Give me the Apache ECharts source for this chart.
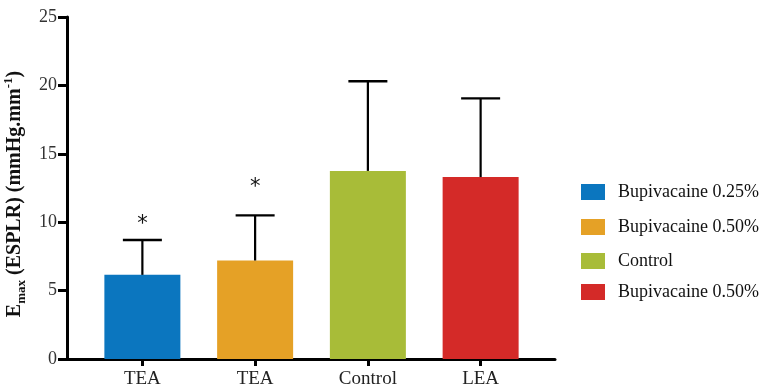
<!DOCTYPE html>
<html>
<head>
<meta charset="utf-8">
<script src="https://cdn.jsdelivr.net/npm/echarts@6/dist/echarts.min.js"></script>
<style>
html,body{margin:0;padding:0;background:#fff;}
#main{width:769px;height:388px;}
</style>
</head>
<body>
<div id="main"></div>
<script>
var categories = ['TEA', 'TEA', 'Control', 'LEA'];
var seriesNames = ['Bupivacaine 0.25%', 'Bupivacaine 0.50%', 'Control', 'Bupivacaine 0.50% '];
var means = [6.15, 7.2, 13.75, 13.3];
var upperErrors = [8.7, 10.5, 20.3, 19.05];
var starValues = [9.85, 12.5, null, null];
var colors = ['#0b76bf', '#e5a126', '#a8bc38', '#d42a28'];
var yTicks = [0, 5, 10, 15, 20, 25];

var FONT = 'Liberation Serif';

var chart = echarts.init(document.getElementById('main'), null, {renderer: 'canvas'});

var barSeries = seriesNames.map(function (name, i) {
  var data = categories.map(function (c, j) { return j === i ? means[j] : '-'; });
  return {
    name: name,
    type: 'bar',
    xAxisIndex: 1,
    yAxisIndex: 1,
    barWidth: 76,
    barGap: '-100%',
    itemStyle: {color: colors[i]},
    data: data,
    z: 2
  };
});

var errData = categories.map(function (c, i) { return [i, means[i], upperErrors[i]]; });
var starData = [];
starValues.forEach(function (v, i) { if (v != null) starData.push([i, v]); });

var legendTops = [183, 218, 252, 283];
var legends = seriesNames.map(function (n, i) {
  return {
    orient: 'vertical',
    left: 581,
    top: legendTops[i],
    padding: 0,
    itemWidth: 24,
    itemHeight: 16,
    icon: 'rect',
    data: [n],
    selectedMode: false,
    formatter: function (s) { return s.trim(); },
    textStyle: {fontFamily: FONT, fontSize: 18, color: '#111', lineHeight: 16, padding: [0, 0, 0, 8]}
  };
});

var option = {
  animation: false,
  backgroundColor: '#fff',
  grid: [
    {left: 67, right: 214, top: 17, bottom: 29, outerBoundsMode: 'none', containLabel: false},
    {left: 86, right: 232, top: 17, bottom: 29, outerBoundsMode: 'none', containLabel: false}
  ],
  legend: legends,
  xAxis: [
    {
      gridIndex: 0, type: 'value', min: 0, max: 1,
      axisLine: {show: true, lineStyle: {color: '#000', width: 3}},
      axisTick: {show: false}, axisLabel: {show: false}, splitLine: {show: false}
    },
    {
      gridIndex: 1, type: 'category', data: categories,
      axisLine: {show: false},
      axisTick: {show: true, alignWithLabel: true, length: 7, lineStyle: {color: '#000', width: 3}},
      axisLabel: {fontFamily: FONT, fontSize: 19, color: '#222', margin: 11},
      splitLine: {show: false}
    }
  ],
  yAxis: [
    {
      gridIndex: 0, type: 'value', min: 0, max: 25, interval: 5,
      axisLine: {show: true, lineStyle: {color: '#000', width: 3}},
      axisTick: {show: true, length: 9, lineStyle: {color: '#000', width: 3}},
      axisLabel: {fontFamily: FONT, fontSize: 18, color: '#333', margin: 10},
      splitLine: {show: false},
      name: '{b|E}{sub|max}{b| (ESPLR) (mmHg.mm}{sup|-1}{b|)}',
      nameLocation: 'middle',
      nameRotate: 90,
      nameGap: 35,
      nameTextStyle: {
        padding: [0, 12, 0, 0],
        rich: {
          b: {fontFamily: FONT, fontSize: 20, fontWeight: 'bold', color: '#111', lineHeight: 26},
          sub: {fontFamily: FONT, fontSize: 13, fontWeight: 'bold', color: '#111', lineHeight: 12, verticalAlign: 'bottom'},
          sup: {fontFamily: FONT, fontSize: 13, fontWeight: 'bold', color: '#111', lineHeight: 12, verticalAlign: 'top'}
        }
      }
    },
    {
      gridIndex: 1, type: 'value', min: 0, max: 25, interval: 5, show: false
    }
  ],
  series: barSeries.concat([
    {
      type: 'custom',
      xAxisIndex: 1, yAxisIndex: 1,
      z: 5,
      silent: true,
      data: errData,
      renderItem: function (params, api) {
        var p0 = api.coord([api.value(0), api.value(1)]);
        var p1 = api.coord([api.value(0), api.value(2)]);
        var half = 19.5;
        return {
          type: 'group',
          children: [
            {type: 'line', shape: {x1: p0[0], y1: p0[1], x2: p1[0], y2: p1[1]}, style: {stroke: '#000', lineWidth: 2.2}},
            {type: 'line', shape: {x1: p1[0] - half, y1: p1[1], x2: p1[0] + half, y2: p1[1]}, style: {stroke: '#000', lineWidth: 2.4}}
          ]
        };
      }
    },
    {
      type: 'custom',
      xAxisIndex: 1, yAxisIndex: 1,
      z: 5,
      silent: true,
      data: starData,
      renderItem: function (params, api) {
        var p = api.coord([api.value(0), api.value(1)]);
        return {
          type: 'text',
          x: p[0], y: p[1],
          style: {text: '*', fontFamily: 'DejaVu Sans', fontSize: 21, fill: '#111', align: 'center', verticalAlign: 'middle'}
        };
      }
    }
  ])
};
chart.setOption(option);
</script>
</body>
</html>
